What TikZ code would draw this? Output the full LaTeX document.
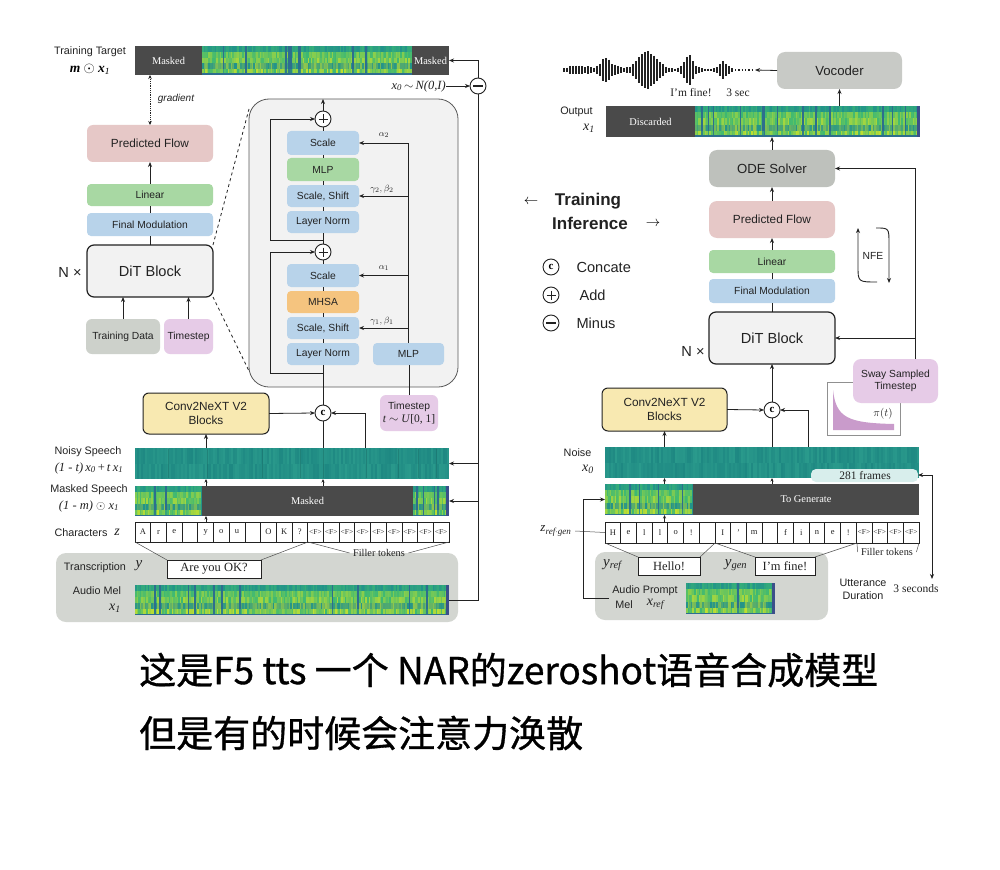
\documentclass[tikz,border=0pt]{standalone}
\usepackage{fontspec}
\setmainfont{Liberation Serif}
\setsansfont{Liberation Sans}
\newfontfamily\cjk[FakeBold=0.9]{Noto Sans CJK SC}
\usetikzlibrary{arrows.meta,calc}

\definecolor{pinkc}{HTML}{E6C8C7}
\definecolor{greenc}{HTML}{A8D8A3}
\definecolor{bluec}{HTML}{B8D3EA}
\definecolor{orangec}{HTML}{F5C47F}
\definecolor{purplec}{HTML}{E6CBE7}
\definecolor{grayc}{HTML}{CDD1CB}
\definecolor{panelc}{HTML}{D3D6D1}
\definecolor{ditc}{HTML}{F2F2F2}
\definecolor{yellowc}{HTML}{F8E9B1}
\definecolor{odec}{HTML}{BEC1BC}
\definecolor{vocc}{HTML}{C8CAC6}
\definecolor{maskc}{HTML}{4A4A4A}
\definecolor{lnc}{HTML}{222222}
\definecolor{spT}{HTML}{22938A}
\definecolor{spG}{HTML}{3DB873}
\definecolor{spY}{HTML}{C2DF30}
\definecolor{spD}{HTML}{2D6E8E}
\definecolor{spP}{HTML}{3B4F8A}
\definecolor{nzA}{HTML}{1E8882}
\definecolor{nzB}{HTML}{2A9A8C}
\definecolor{framec}{HTML}{D8EEEC}
\definecolor{swayc}{HTML}{C99BCB}

\newcommand{\mybox}[7]{\node[#2, minimum width={((#5)-(#3))*1pt}, minimum height={((#6)-(#4))*1pt}] (#1) at ({((#3)+(#5))/2},{((#4)+(#6))/2}) {#7};}
\newcommand{\ix}[2]{\textit{#1}\textsubscript{\textit{#2}}}

% spectrogram: x1 y1 x2 y2 seed
\newcommand{\spec}[5]{%
  \pgfmathsetseed{#5}%
  \fill[spT] (#1,#2) rectangle (#3,#4);%
  \pgfmathtruncatemacro\nn{((#3)-(#1))/1.6-1}%
  \foreach \k in {0,...,\nn}{%
    \pgfmathsetmacro\xa{#1+1.6*\k}%
    \pgfmathsetmacro\xb{min(\xa+1.9,#3)}%
    \pgfmathsetmacro\hb{(#4-#2)/5}%
    \pgfmathtruncatemacro\dk{rnd*100}%
    \ifnum\dk<8
      \fill[spD] (\xa,#2) rectangle (\xb,{#2+4*\hb});
      \pgfmathtruncatemacro\rc{rnd*80}%
      \fill[spG!\rc!spD] (\xa,{#2+4*\hb}) rectangle (\xb,#4);
    \else
      \pgfmathtruncatemacro\ra{rnd*75}%
      \fill[spG!\ra!spT] (\xa,#2) rectangle (\xb,{#2+\hb});
      \pgfmathtruncatemacro\ra{rnd*60}%
      \fill[spY!\ra!spG] (\xa,{#2+\hb}) rectangle (\xb,{#2+2*\hb});
      \pgfmathtruncatemacro\ra{rnd*80}%
      \fill[spY!\ra!spG] (\xa,{#2+2*\hb}) rectangle (\xb,{#2+3*\hb});
      \pgfmathtruncatemacro\ra{rnd*70}%
      \fill[spY!\ra!spT] (\xa,{#2+3*\hb}) rectangle (\xb,{#2+4*\hb});
      \pgfmathtruncatemacro\ra{rnd*100}%
      \fill[spY!\ra!spG] (\xa,{#2+4*\hb}) rectangle (\xb,#4);
    \fi
  }%
  \fill[spD] (#1,#4-1.5) rectangle (#3,#4);%
}
\newcommand{\noise}[5]{%
  \pgfmathsetseed{#5}%
  \fill[nzA] (#1,#2) rectangle (#3,#4);%
  \pgfmathtruncatemacro\nn{((#3)-(#1))/2-1}%
  \foreach \k in {0,...,\nn}{%
    \pgfmathsetmacro\xa{#1+2*\k}%
    \pgfmathsetmacro\xb{min(\xa+2.2,#3)}%
    \pgfmathtruncatemacro\ra{rnd*100}%
    \pgfmathtruncatemacro\rb{rnd*100}%
    \fill[nzB!\ra!nzA] (\xa,#2) rectangle (\xb,{(#2+#4)/2});%
    \fill[nzB!\rb!nzA] (\xa,{(#2+#4)/2}) rectangle (\xb,#4);%
  }%
}

\tikzset{
 lnk/.style={draw=lnc, line width=0.8pt},
 arr/.style={lnk, -{Stealth[length=5pt,width=4pt]}},
 sarr/.style={lnk, -{Stealth[length=3.5pt,width=3pt]}},
 darr/.style={lnk, {Stealth[length=5pt,width=4pt]}-{Stealth[length=5pt,width=4pt]}},
 thin/.style={draw=lnc!80, line width=0.5pt},
 box/.style={rounded corners=6pt, inner sep=0pt, outer sep=0pt, align=center, text=lnc},
 bar/.style={inner sep=0pt, outer sep=0pt},
 circ/.style={circle, draw=lnc, line width=0.9pt, fill=white, minimum size=16pt, inner sep=0pt, outer sep=0pt},
 plusc/.style={circ, path picture={\draw[line width=0.9pt] ($(path picture bounding box.center)+(-4.5,0)$) -- ($(path picture bounding box.center)+(4.5,0)$) ($(path picture bounding box.center)+(0,-4.5)$) -- ($(path picture bounding box.center)+(0,4.5)$);}},
 minusc/.style={circ, path picture={\draw[line width=1.4pt] ($(path picture bounding box.center)+(-5,0)$) -- ($(path picture bounding box.center)+(5,0)$);}},
 catc/.style={circ, font=\rmfamily\bfseries\fontsize{11}{12}\selectfont},
 s10/.style={font=\sffamily\fontsize{10.3}{12.5}\selectfont, text=lnc},
 s11/.style={font=\sffamily\fontsize{10.8}{13}\selectfont, text=lnc, align=center},
 s12/.style={font=\sffamily\fontsize{11.8}{14.5}\selectfont, text=lnc},
 s13/.style={font=\sffamily\fontsize{13.2}{15}\selectfont, text=lnc},
 s15/.style={font=\sffamily\fontsize{14.6}{17}\selectfont, text=lnc},
 r10/.style={font=\rmfamily\fontsize{10.3}{12}\selectfont, text=lnc},
 r11/.style={font=\rmfamily\fontsize{11.5}{13}\selectfont, text=lnc},
 r12/.style={font=\rmfamily\fontsize{12.5}{14}\selectfont, text=lnc},
 r13/.style={font=\rmfamily\fontsize{13.5}{15}\selectfont, text=lnc},
 mtxt/.style={font=\rmfamily\fontsize{10.4}{12}\selectfont, text=white},
 gl/.style={font=\fontsize{9.5}{10}\selectfont, text=lnc},
 chf/.style={font=\rmfamily\fontsize{8.5}{9}\selectfont, text=lnc, inner sep=0pt},
 chF/.style={font=\rmfamily\fontsize{7.5}{8}\selectfont, text=lnc, inner sep=0pt},
 cell/.style={draw=lnc, line width=0.7pt},
}

\begin{document}
\begin{tikzpicture}[x=1pt,y=-1pt]
\useasboundingbox (0,0) rectangle (1000,869);
\fill[white] (0,0) rectangle (1000,869);

% ================= LEFT : TRAINING =================
\spec{202}{46}{412}{75}{11}
\fill[maskc] (135,46) rectangle (202,75);
\fill[maskc] (412,46) rectangle (449,75);
\node[mtxt] (tm1) at (168.5,60.5) {Masked};
\node[mtxt] (tm2) at (430.5,60.5) {Masked};
\mybox{tt}{bar}{135}{46}{449}{75}{}
\node[s11] (ttl) at (90,52) {Training Target};
\node[font=\rmfamily\fontsize{13.5}{15}\selectfont] (ttm) at (90,69) {\textbf{\textit{m}} $\odot$ \textbf{\textit{x}}\textsubscript{\textit{1}}};

\mybox{pf}{box,fill=pinkc,s12}{87}{125}{213}{162}{Predicted Flow}
\mybox{lin}{box,fill=greenc,s10,rounded corners=4pt}{87}{184}{213}{206}{Linear}
\mybox{fm}{box,fill=bluec,s10,rounded corners=4pt}{87}{213}{213}{236}{Final Modulation}
\mybox{dit}{box,draw=lnc,line width=1.2pt,fill=ditc,s15,rounded corners=7pt}{87}{245}{213}{297}{DiT Block}
\mybox{td}{box,fill=grayc,s10}{86}{319}{160}{354}{Training Data}
\mybox{tsl}{box,fill=purplec,s10}{164}{319}{213}{354}{Timestep}
\node[s15] (nx1) at (70,272) {N ×};

\draw[lnk, densely dotted, {Stealth[length=4pt,width=3.5pt]}-{Stealth[length=4pt,width=3.5pt]}] (pf.north |- tt.south) -- (pf.north);
\node[font=\sffamily\itshape\fontsize{10}{12}\selectfont, text=lnc] (grad) at (176,99) {gradient};
\draw[arr] (lin.north) -- (pf.south);
\draw[lnk] (fm.north) -- (lin.south);
\draw[lnk] (dit.north) -- (fm.south);
\draw[arr] (td.north) -- (td.north |- dit.south);
\draw[arr] (tsl.north) -- (tsl.north |- dit.south);

% expanded DiT panel
\mybox{ep}{bar,draw=lnc!75,line width=0.8pt,fill=ditc,rounded corners=20pt}{249}{99}{458}{387}{}
\draw[lnk, dashed] (dit.north east) -- ($(ep.north west)+(0,10)$);
\draw[lnk, dashed] (dit.south east) -- ($(ep.south west)+(0,-16)$);

\mybox{sc2}{box,fill=bluec,s10,rounded corners=4pt}{287}{131}{359}{155}{Scale}
\mybox{mlp2}{box,fill=greenc,s10,rounded corners=4pt}{287}{158}{359}{181}{MLP}
\mybox{ss2}{box,fill=bluec,s10,rounded corners=4pt}{287}{185}{359}{207}{Scale, Shift}
\mybox{ln2}{box,fill=bluec,s10,rounded corners=4pt}{287}{211}{359}{233}{Layer Norm}
\mybox{sc1}{box,fill=bluec,s10,rounded corners=4pt}{287}{264}{359}{287}{Scale}
\mybox{mhsa}{box,fill=orangec,s10,rounded corners=4pt}{287}{291}{359}{313}{MHSA}
\mybox{ss1}{box,fill=bluec,s10,rounded corners=4pt}{287}{317}{359}{339}{Scale, Shift}
\mybox{ln1}{box,fill=bluec,s10,rounded corners=4pt}{287}{343}{359}{365}{Layer Norm}
\mybox{mlpR}{box,fill=bluec,s10,rounded corners=4pt}{373}{343}{444}{365}{MLP}
\node[plusc] (pT) at (323,119) {};
\node[plusc] (pB) at (323,252) {};

\draw[lnk] (ln1.north) -- (ss1.south);
\draw[lnk] (ss1.north) -- (mhsa.south);
\draw[lnk] (mhsa.north) -- (sc1.south);
\draw[lnk] (sc1.north) -- (pB.south);
\draw[lnk] (pB.north) -- (ln2.south);
\draw[lnk] (ln2.north) -- (ss2.south);
\draw[lnk] (ss2.north) -- (mlp2.south);
\draw[lnk] (mlp2.north) -- (sc2.south);
\draw[lnk] (sc2.north) -- (pT.south);
\draw[arr] (pT.north) -- (pT.north |- ep.north);
\coordinate (r2) at (323,240);
\draw[arr] (r2) -- (270,240) -- (270,119) -- (pT.west);
\coordinate (r1) at (323,373);
\draw[arr] (r1) -- (270,373) -- (270,252) -- (pB.west);
\draw[arr] (mlpR.north) |- (sc2.east);
\draw[arr] (mlpR.north |- ss2.east) -- (ss2.east);
\draw[arr] (mlpR.north |- sc1.east) -- (sc1.east);
\draw[arr] (mlpR.north |- ss1.east) -- (ss1.east);
\node[gl] (la2) at (384,135) {$\alpha_2$};
\node[gl] (lg2) at (382,189) {$\gamma_2, \beta_2$};
\node[gl] (la1) at (384,268) {$\alpha_1$};
\node[gl] (lg1) at (382,321) {$\gamma_1, \beta_1$};

\node[catc] (cc) at (323,413) {c};
\mybox{conv}{box,draw=lnc,line width=1pt,fill=yellowc,s12,align=center}{143}{393}{269}{434}{Conv2NeXT V2\\Blocks}
\mybox{tsb}{box,fill=purplec,s10,align=center}{380}{395}{438}{431}{Timestep\\[1pt]{\rmfamily\fontsize{11.5}{13}\selectfont\textit{t} $\sim$ \textit{U}[0, 1]}}
\draw[lnk] (cc.north) -- (ln1.south);
\draw[lnk] (tsb.north) -- (tsb.north |- mlpR.south);
\draw[arr] (conv.east) -- (cc.west);

% bars
\noise{135}{448}{449}{479}{5}
\foreach \xx [count=\i] in {168,207,262,300,323,366,398,418,436}
  \draw[nzA!70!black, opacity=0.35, line width=0.8pt] (\xx,449) -- (\xx,478);
\mybox{ns}{bar}{135}{448}{449}{479}{}
\spec{135}{486}{202}{516}{21}
\spec{413}{486}{449}{516}{22}
\fill[spP] (446,486) rectangle (449,516);
\fill[maskc] (202,486) rectangle (413,516);
\node[mtxt] (msm) at (307.5,501) {Masked};
\mybox{ms}{bar}{135}{486}{449}{516}{}

\coordinate (nsx) at (365,448);
\draw[arr] (nsx) |- (cc.east);
\draw[lnk] (cc.south) -- (cc.south |- ns.north);
\draw[sarr] (cc.south |- ms.north) -- (cc.south |- ns.south);
\draw[arr] (conv.south |- ns.north) -- (conv.south);
\draw[sarr] (conv.south |- ms.north) -- (conv.south |- ns.south);

\node[s11] (nsl) at (88,452) {Noisy Speech};
\node[r12] (nsm) at (89,468) {\textit{(1 - t)}\,\ix{x}{0}\,+\,\textit{t}\,\ix{x}{1}};
\node[s11] (msl) at (89,490) {Masked Speech};
\node[r12] (msmm) at (89,506) {\textit{(1 - m)} $\odot$ \ix{x}{1}};

\foreach \c [count=\i from 0] in {A,r,e,{},y,o,u,{},O,K,?}{
  \draw[cell] (135+15.7*\i,522) rectangle +(15.7,20);
  \node[chf] (cl\i) at (135+15.7*\i+7.85,532) {\c};
}
\foreach \i in {11,...,19}{
  \draw[cell] (135+15.7*\i,522) rectangle +(15.7,20);
  \node[chF] (cl\i) at (135+15.7*\i+7.85,532) {<F>};
}
\mybox{ch}{bar}{135}{522}{449}{542}{}
\draw[sarr] (conv.south |- ch.north) -- (conv.south |- ms.south);
\node[s11] (chl) at (81,533) {Characters};
\node[font=\rmfamily\itshape\fontsize{14}{15}\selectfont, text=lnc] (chz) at (117,532) {z};

\mybox{gp}{bar,fill=panelc,rounded corners=10pt}{56}{553}{458}{622}{}
\draw[thin] (ch.south west) -- (167,560);
\draw[thin] (308,542) -- (261,560);
\node[r10] (flt) at (379,553) {Filler tokens};
\draw[thin] (308,542) -- (flt.west);
\draw[thin] (flt.east) -- (ch.south east);
\mybox{ayo}{bar,draw=lnc,line width=0.8pt,fill=white,r12}{167}{560}{261}{578}{Are you OK?}
\node[s11] (trl) at (95,568) {Transcription};
\node[font=\rmfamily\itshape\fontsize{15}{16}\selectfont, text=lnc] (try) at (139,566) {y};
\spec{135}{585}{449}{615}{7}
\fill[spP] (446,585) rectangle (449,615);
\mybox{am}{bar}{135}{585}{449}{615}{}
\node[s11] (aml) at (97,591) {Audio Mel};
\node[font=\rmfamily\fontsize{14}{15}\selectfont, text=lnc] (amx) at (115,608) {\ix{x}{1}};

\node[minusc] (mn) at (478,86) {};
\draw[lnk] (am.east) -| (mn.south);
\draw[arr] (mn.north) |- (tt.east);
\draw[arr] (mn.south |- ns.east) -- (ns.east);
\draw[arr] (mn.south |- ms.east) -- (ms.east);
\node[r12, anchor=east, inner sep=0pt] (x0n) at (446,86) {\ix{x}{0}\,$\sim$\,\textit{N(0,I)}};
\draw[arr] (x0n.east) -- (mn.west);

% ================= LEGEND =================
\node[font=\fontsize{14}{16}\selectfont] (lar) at (531,202) {$\leftarrow$};
\node[font=\sffamily\bfseries\fontsize{17}{20}\selectfont, text=lnc] (ltr) at (588,201) {Training};
\node[font=\sffamily\bfseries\fontsize{17}{20}\selectfont, text=lnc] (linf) at (590,223) {Inference};
\node[font=\fontsize{14}{16}\selectfont] (rar) at (653,224) {$\rightarrow$};
\node[catc] (lgc) at (551,267) {c};
\node[plusc] (lgp) at (551,295) {};
\node[minusc] (lgm) at (551,323) {};
\node[s15, anchor=west] (lgct) at (573,267) {Concate};
\node[s15, anchor=west] (lgat) at (576,295) {Add};
\node[s15, anchor=west] (lgmt) at (573,323) {Minus};

% ================= RIGHT : INFERENCE =================
\mybox{voc}{box,fill=vocc,s13,rounded corners=8pt}{777}{52}{902}{89}{Vocoder}
\pgfmathsetseed{3}
\foreach \k in {0,...,56}{
  \pgfmathsetmacro\xx{564+3*\k}
  \pgfmathsetmacro\hh{(1.6+4*exp(-((\xx-578)/12)^2)+12*exp(-((\xx-607)/9)^2)+18*exp(-((\xx-648)/13)^2)+14*exp(-((\xx-689)/7)^2)+8*exp(-((\xx-724)/5)^2))*(0.55+0.45*rnd)}
  \draw[lnc, line width=1.3pt] (\xx,70-\hh) -- (\xx,70+\hh);
}
\draw[lnc, line width=1.3pt, dash pattern=on 1.3pt off 2pt] (735,70) -- (753,70);
\coordinate (wv) at (755,70);
\draw[arr] (voc.west) -- (wv);
\node[r11] (imf) at (691,93) {I'm fine!};
\node[r11] (tsec) at (738,93) {3 sec};

\fill[maskc] (606,106) rectangle (695,137);
\spec{695}{106}{920}{137}{31}
\fill[spP] (917,106) rectangle (920,137);
\node[mtxt] (disc) at (650.5,121.5) {Discarded};
\mybox{out}{bar}{606}{106}{920}{137}{}
\node[s11] (outl) at (576.5,112) {Output};
\node[font=\rmfamily\fontsize{14}{15}\selectfont, text=lnc] (outx) at (589,128) {\ix{x}{1}};

\mybox{ode}{box,fill=odec,s13,rounded corners=8pt}{709}{150}{835}{187}{ODE Solver}
\mybox{pf2}{box,fill=pinkc,s12,rounded corners=8pt}{709}{201}{835}{238}{Predicted Flow}
\mybox{lin2}{box,fill=greenc,s10,rounded corners=4pt}{709}{250}{835}{273}{Linear}
\mybox{fm2}{box,fill=bluec,s10,rounded corners=4pt}{709}{279}{835}{303}{Final Modulation}
\mybox{dit2}{box,draw=lnc,line width=1.2pt,fill=ditc,s15,rounded corners=7pt}{709}{312}{835}{364}{DiT Block}
\node[s15] (nx2) at (693,351) {N ×};
\draw[arr] (voc.south |- out.north) -- (voc.south);
\draw[arr] (ode.north) -- (ode.north |- out.south);
\draw[arr] (pf2.north) -- (ode.south);
\draw[arr] (lin2.north) -- (pf2.south);
\draw[lnk] (fm2.north) -- (lin2.south);
\draw[lnk] (dit2.north) -- (fm2.south);

\draw[arr, line width=0.9pt] (877,282) .. controls (858,282) and (858,282) .. (858,266) -- (858,228);
\draw[arr, line width=0.9pt] (876,228) .. controls (889,228) and (889,228) .. (889,244) -- (889,283);
\node[s10] (nfe) at (873,256) {NFE};

\mybox{plt}{bar,draw=lnc!50,line width=0.8pt,fill=white}{827}{382}{900}{435}{}
\fill[swayc] (833,390) .. controls (836,418) and (848,423) .. (894,424) -- (894,430) -- (833,430) -- cycle;
\node[font=\fontsize{11}{12}\selectfont, text=lnc] (pit) at (883,414) {$\pi(t)$};
\mybox{sway}{box,fill=purplec,s10,rounded corners=8pt,align=center}{853}{359}{938}{403}{Sway Sampled\\Timestep}
\coordinate (swt) at (915,359);
\draw[arr] (swt) |- (ode.east);
\draw[arr] (swt |- dit2.east) -- (dit2.east);

\node[catc] (cc2) at (772,410) {c};
\mybox{conv2}{box,draw=lnc,line width=1pt,fill=yellowc,s12,align=center}{602}{388}{727}{431}{Conv2NeXT V2\\Blocks}
\draw[arr] (conv2.east) -- (cc2.west);
\draw[arr] (cc2.north) -- (dit2.south);

\noise{605}{447}{919}{478}{9}
\mybox{nz}{bar}{605}{447}{919}{478}{}
\fill[framec, rounded corners=5pt] (811,482) -- (811,469) -- (918,469) -- (918,482) -- cycle;
\mybox{frb}{bar}{811}{469}{918}{481}{}
\node[r11] (frt) at (865,476) {281 frames};
\node[s11] (nzl) at (577.5,453) {Noise};
\node[font=\rmfamily\fontsize{14}{15}\selectfont, text=lnc] (nzx0) at (588,469) {\ix{x}{0}};

\spec{605}{484}{693}{515}{41}
\fill[maskc] (693,484) rectangle (919,515);
\node[mtxt] (tgt) at (806,499.5) {To Generate};
\mybox{tg}{bar}{605}{484}{919}{515}{}

\coordinate (nzc) at (808,447);
\draw[arr] (nzc) |- (cc2.east);
\draw[lnk] (cc2.south) -- (cc2.south |- nz.north);
\draw[sarr] (cc2.south |- tg.north) -- (cc2.south |- nz.south);
\draw[arr] (conv2.south |- nz.north) -- (conv2.south);
\draw[sarr] (conv2.south |- tg.north) -- (conv2.south |- nz.south);

\foreach \c [count=\i from 0] in {H,e,l,l,o,!,{},I,{\char"0027},m,{},f,i,n,e,!}{
  \draw[cell] (605+15.7*\i,522) rectangle +(15.7,21);
  \node[chf] (cr\i) at (605+15.7*\i+7.85,532.5) {\c};
}
\foreach \i in {16,...,19}{
  \draw[cell] (605+15.7*\i,522) rectangle +(15.7,21);
  \node[chF] (cr\i) at (605+15.7*\i+7.85,532.5) {<F>};
}
\mybox{ch2}{bar}{605}{522}{919}{543}{}
\draw[sarr] (conv2.south |- ch2.north) -- (conv2.south |- tg.south);
\node[font=\rmfamily\fontsize{13}{14}\selectfont, text=lnc] (zrg) at (556,531) {\textit{z}\textsubscript{\textit{ref$\cdot$gen}}};
\draw[thin] (zrg.east) -- (ch2.west);

\mybox{gp2}{bar,fill=panelc,rounded corners=10pt}{595}{552}{828}{620}{}
\draw[thin] (ch2.south west) -- (638,557);
\draw[thin] (715,543) -- (700,557);
\draw[thin] (715,543) -- (755,557);
\draw[thin] (857,543) -- (815,557);
\node[r10] (flt2) at (887,552) {Filler tokens};
\draw[thin] (857,543) -- (flt2.west);
\draw[thin] (flt2.east) -- (ch2.south east);
\mybox{hel}{bar,draw=lnc,line width=0.8pt,fill=white,r12}{638}{557}{700}{575}{Hello!}
\mybox{imf2}{bar,draw=lnc,line width=0.8pt,fill=white,r12}{755}{557}{815}{575}{I'm fine!}
\node[font=\rmfamily\fontsize{15}{16}\selectfont, text=lnc] (yref) at (613,565) {\ix{y}{ref}};
\node[font=\rmfamily\fontsize{15}{16}\selectfont, text=lnc] (ygen) at (736,565) {\ix{y}{gen}};
\node[s11] (apl) at (645,591) {Audio Prompt};
\node[s11] (mell) at (624,605) {Mel};
\node[font=\rmfamily\fontsize{14}{15}\selectfont, text=lnc] (xref) at (656,604) {\ix{x}{ref}};
\spec{686}{583}{775}{614}{51}
\fill[spP] (772,583) rectangle (775,614);
\mybox{ap}{bar}{686}{583}{775}{614}{}
\coordinate (apx) at (609,598);
\draw[arr] (apx) -- (583,598) -- (583,499.5) -- (tg.west);

\node[s11, align=center] (utd) at (863,589.5) {Utterance\\Duration};
\node[r11] (secs) at (916,589) {3 seconds};
\coordinate (sx) at (932,579);
\draw[darr] (frb.east) -| (sx);

% ================= CHINESE TEXT =================
\node[anchor=west, inner sep=0pt, font=\cjk\fontsize{37}{40}\selectfont] (cn1) at (139,670) {这是F5 tts 一个 NAR的zeroshot语音合成模型};
\node[anchor=west, inner sep=0pt, font=\cjk\fontsize{37}{40}\selectfont] (cn2) at (139,733) {但是有的时候会注意力涣散};
\end{tikzpicture}
\end{document}
